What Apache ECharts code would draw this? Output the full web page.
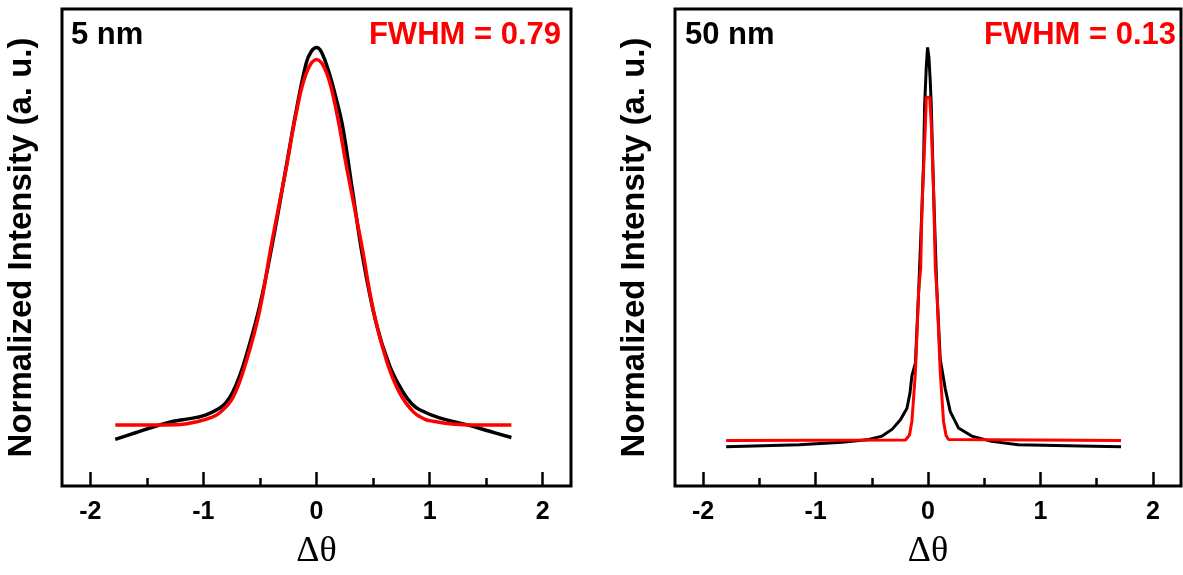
<!DOCTYPE html>
<html>
<head>
<meta charset="utf-8">
<script src="https://cdn.jsdelivr.net/npm/echarts@6/dist/echarts.min.js"></script>
<style>
  html, body { margin: 0; padding: 0; background: #fff; }
  #chart { width: 1183px; height: 575px; }
</style>
</head>
<body>
<div id="chart"></div>
<script>
// Rocking-curve profiles for two film thicknesses: measured (black) and Gaussian fit (red)
const panelLabels = ['5 nm', '50 nm'];
const fwhmValues = [0.79, 0.13];
const xMajorTicks = [-2, -1, 0, 1, 2];
const xMinorTicks = [-1.5, -0.5, 0.5, 1.5];

// 5 nm film
const measured5 = [
  [-1.779, 0.103], [-1.60, 0.117], [-1.404, 0.132], [-1.30, 0.139], [-1.183, 0.144],
  [-1.06, 0.149], [-0.976, 0.154], [-0.858, 0.168], [-0.80, 0.180], [-0.740, 0.202],
  [-0.68, 0.235], [-0.622, 0.277], [-0.504, 0.379], [-0.387, 0.515], [-0.268, 0.671],
  [-0.180, 0.787], [-0.090, 0.888], [-0.045, 0.912], [0, 0.920], [0.045, 0.910],
  [0.110, 0.868], [0.172, 0.815], [0.233, 0.753], [0.321, 0.617], [0.410, 0.481],
  [0.528, 0.345], [0.646, 0.257], [0.764, 0.202], [0.84, 0.178], [0.912, 0.165],
  [1.088, 0.148], [1.325, 0.134], [1.531, 0.120], [1.723, 0.107]
];
const fit5 = [
  [-1.779, 0.133], [-1.40, 0.133], [-1.20, 0.134], [-1.04, 0.141], [-0.94, 0.148],
  [-0.858, 0.158], [-0.740, 0.190], [-0.622, 0.265], [-0.504, 0.370], [-0.395, 0.514],
  [-0.268, 0.668], [-0.180, 0.782], [-0.091, 0.866], [0, 0.895], [0.091, 0.866],
  [0.180, 0.782], [0.268, 0.668], [0.395, 0.514], [0.504, 0.370], [0.622, 0.265],
  [0.735, 0.200], [0.858, 0.160], [0.96, 0.145], [1.03, 0.141], [1.20, 0.135],
  [1.40, 0.133], [1.723, 0.133]
];

// 50 nm film
const measured50 = [
  [-1.795, 0.088], [-1.146, 0.092], [-0.763, 0.097], [-0.526, 0.103], [-0.408, 0.110],
  [-0.320, 0.124], [-0.245, 0.144], [-0.187, 0.168], [-0.160, 0.200], [-0.143, 0.236],
  [-0.112, 0.262], [-0.083, 0.413], [-0.054, 0.583], [-0.039, 0.685], [-0.030, 0.800],
  [-0.015, 0.880], [-0.004, 0.920], [0.008, 0.900], [0.020, 0.850], [0.029, 0.800],
  [0.050, 0.617], [0.079, 0.413], [0.109, 0.270], [0.153, 0.209], [0.198, 0.161],
  [0.271, 0.127], [0.389, 0.110], [0.566, 0.099], [0.802, 0.092], [1.245, 0.090],
  [1.717, 0.088]
];
const fit50 = [
  [-1.795, 0.101], [-0.200, 0.102], [-0.165, 0.112], [-0.143, 0.141], [-0.112, 0.243],
  [-0.083, 0.413], [-0.065, 0.460], [-0.054, 0.583], [-0.024, 0.753], [-0.015, 0.816],
  [0.015, 0.816], [0.029, 0.760], [0.050, 0.617], [0.065, 0.460], [0.079, 0.413],
  [0.109, 0.243], [0.138, 0.141], [0.160, 0.112], [0.182, 0.103], [1.717, 0.101]
];

const sans = '"Liberation Sans", Arial, sans-serif';
const serif = '"Liberation Serif", "Times New Roman", serif';

const grids = [
  { left: 62, top: 9, width: 509, height: 487 },
  { left: 675, top: 9, width: 506, height: 487 }
];

function majorAxis(g) {
  return {
    type: 'value', gridIndex: g, min: -2.25, max: 2.25, position: 'bottom',
    name: 'Δθ', nameLocation: 'middle', nameGap: 48,
    nameTextStyle: { fontFamily: serif, fontSize: 36, color: '#000' },
    axisLine: { show: false },
    axisTick: { show: true, inside: true, length: 14, customValues: xMajorTicks,
                lineStyle: { color: '#000', width: 2.5 } },
    axisLabel: { show: true, customValues: xMajorTicks, margin: 14,
                 fontFamily: sans, fontWeight: 'bold', fontSize: 25, color: '#000' },
    splitLine: { show: false }
  };
}
function minorAxis(g) {
  return {
    type: 'value', gridIndex: g, min: -2.25, max: 2.25, position: 'bottom',
    axisLine: { show: false },
    axisTick: { show: true, inside: true, length: 8, customValues: xMinorTicks,
                lineStyle: { color: '#000', width: 2.5 } },
    axisLabel: { show: false },
    splitLine: { show: false }
  };
}
function yAxis(g) {
  return {
    type: 'value', gridIndex: g, min: 0.006, max: 1,
    name: 'Normalized Intensity (a. u.)', nameLocation: 'middle', nameGap: 24,
    nameTextStyle: { fontFamily: sans, fontWeight: 'bold', fontSize: 33, color: '#000' },
    axisLine: { show: false }, axisTick: { show: false },
    axisLabel: { show: false }, splitLine: { show: false }
  };
}
function line(xi, yi, data, color, width, smooth) {
  return {
    type: 'line', xAxisIndex: xi, yAxisIndex: yi, data: data,
    showSymbol: false, smooth: smooth, silent: true,
    lineStyle: { color: color, width: width }
  };
}

const chart = echarts.init(document.getElementById('chart'), null, { renderer: 'canvas' });
chart.setOption({
  animation: false,
  backgroundColor: '#fff',
  grid: grids.map(g => Object.assign({ show: true, borderColor: '#000', borderWidth: 3,
                                       backgroundColor: 'transparent' }, g)),
  xAxis: [majorAxis(0), minorAxis(0), majorAxis(1), minorAxis(1)],
  yAxis: [yAxis(0), yAxis(1)],
  series: [
    line(0, 0, measured5, '#000000', 3.5, 0.4),
    line(0, 0, fit5, '#ff0000', 3.5, 0.4),
    line(2, 1, measured50, '#000000', 3, false),
    line(2, 1, fit50, '#ff0000', 3, false)
  ],
  graphic: [
    { type: 'text', left: 71, top: 20, z: 10,
      style: { text: panelLabels[0], font: 'bold 31px ' + sans, fill: '#000' } },
    { type: 'text', right: 1183 - 561, top: 20, z: 10,
      style: { text: 'FWHM = ' + fwhmValues[0].toFixed(2), font: 'bold 31px ' + sans, fill: '#ff0000' } },
    { type: 'text', left: 685, top: 20, z: 10,
      style: { text: panelLabels[1], font: 'bold 31px ' + sans, fill: '#000' } },
    { type: 'text', right: 1183 - 1176, top: 20, z: 10,
      style: { text: 'FWHM = ' + fwhmValues[1].toFixed(2), font: 'bold 31px ' + sans, fill: '#ff0000' } }
  ]
});
</script>
</body>
</html>
